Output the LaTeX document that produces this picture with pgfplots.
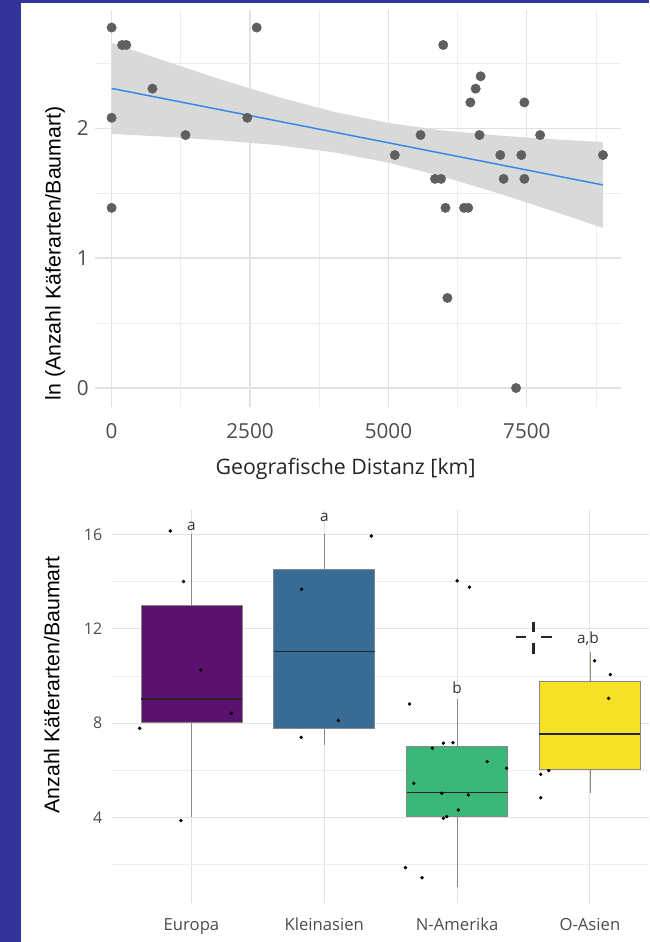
\documentclass[border=0pt]{standalone}
\usepackage{pgfplots}
\pgfplotsset{compat=1.18}
\usepgfplotslibrary{statistics}
\usepackage{pgfplotstable}
\usepackage{graphicx}
\usepackage{fontspec}
\setmainfont{Open Sans}
\newfontfamily\arialfont{Liberation Sans}
\definecolor{frameblue}{RGB}{51,51,153}
\definecolor{ptgray}{RGB}{95,95,95}
\definecolor{bandgray}{RGB}{217,217,217}
\definecolor{lineblue}{RGB}{51,136,230}
\definecolor{gridmaj}{RGB}{226,226,226}
\definecolor{gridmin}{RGB}{237,237,237}
\definecolor{ticktext}{RGB}{77,77,77}
\definecolor{boxedge}{RGB}{135,135,135}
\definecolor{europa}{RGB}{90,18,110}
\definecolor{kleinasien}{RGB}{57,108,148}
\definecolor{namerika}{RGB}{59,183,121}
\definecolor{oasien}{RGB}{247,225,38}

\pgfplotstableread{
x y
0 2.773
2620 2.773
190 2.639
265 2.639
5990 2.639
738 2.303
0 2.079
2450 2.079
1335 1.946
0 1.386
5580 1.946
5115 1.792
5840 1.609
5950 1.609
6030 1.386
6365 1.386
6440 1.386
6065 0.693
6480 2.197
6575 2.303
6665 2.398
6645 1.946
7020 1.792
7080 1.609
7400 1.792
7455 1.609
7455 2.197
7740 1.946
7305 0
8875 1.792
}\distpts

% confidence band: upper edge left to right, then lower edge right to left
\pgfplotstableread{
x y
0 2.655
1000 2.511
2000 2.370
3000 2.240
4000 2.126
5000 2.039
6000 1.980
7000 1.942
8000 1.913
8875 1.892
8875 1.232
8000 1.357
7000 1.496
6000 1.624
5000 1.734
4000 1.814
3000 1.868
2000 1.904
1000 1.932
0 1.955
}\band

\pgfplotstableread{
x y
0.84 16.14
0.94 14.0
0.61 7.78
1.07 10.25
1.30 8.42
0.92 3.87
1.829 13.67
2.354 15.93
2.106 8.11
1.826 7.40
3.0 14.03
3.093 13.76
2.642 8.81
2.813 6.94
2.897 7.15
2.969 7.17
3.227 6.37
3.373 6.09
2.674 5.45
2.885 5.03
3.084 4.96
3.009 4.32
2.897 3.97
2.922 4.04
2.611 1.88
2.736 1.45
4.036 10.64
4.154 10.06
4.141 9.05
3.63 5.83
3.69 5.99
3.63 4.84
}\jitter

\begin{document}
\begin{tikzpicture}
\fill[white] (0,0) rectangle (486.75pt,-706.5pt);
\fill[frameblue] (0,0) rectangle (16pt,-706.5pt);
\fill[frameblue] (0,0) rectangle (486.75pt,-2.6pt);

% ---------- top: scatter with regression ----------
\begin{axis}[
  at={(71.25pt,-305.25pt)}, anchor=south west,
  scale only axis, width=394.5pt, height=297.75pt,
  xmin=-300, xmax=9200, ymin=-0.146, ymax=2.908,
  axis line style={draw=none},
  major tick length=0pt, minor tick length=0pt,
  xtick={0,2500,5000,7500}, minor xtick={1250,3750,6250,8750},
  ytick={0,1,2}, minor ytick={0.5,1.5,2.5},
  grid=both,
  major grid style={draw=gridmaj, line width=0.8pt},
  minor grid style={draw=gridmin, line width=0.5pt},
  /pgf/number format/assume math mode=true,
  /pgf/number format/1000 sep={},
  tick label style={inner sep=0pt, text=ticktext, font=\fontsize{15.5}{16}\selectfont},
  xticklabel style={anchor=base, yshift=-23.25pt},
  yticklabel style={anchor=east, xshift=-4.5pt},
  xlabel={Geografische Distanz [km]},
  xlabel style={at={(axis description cs:0.4764,-0.1695)}, anchor=base, inner sep=0pt,
    font=\fontsize{16}{16}\selectfont, text=black!85},
  ylabel={ln (Anzahl Käferarten/Baumart)},
  ylabel style={at={(axis description cs:-0.076,0.387)}, anchor=center, inner sep=0pt,
    font=\arialfont\fontsize{16}{16}\selectfont},
]
\addplot[fill=bandgray, draw=none] table[x=x, y=y] {\band} -- cycle;
\addplot[only marks, mark=*, mark size=3.5pt, mark options={fill=ptgray, draw=ptgray}] table[x=x, y=y] {\distpts};
\addplot[lineblue, line width=1.1pt] coordinates {(0,2.305) (8875,1.562)};
\end{axis}

% ---------- bottom: boxplots ----------
\begin{axis}[
  at={(83.85pt,-677.25pt)}, anchor=south west,
  scale only axis, width=402.9pt, height=294.75pt,
  xmin=0.4, xmax=4.445, ymin=0.38, ymax=17.03,
  axis line style={draw=none},
  major tick length=0pt, minor tick length=0pt,
  xtick={1,2,3,4}, xticklabels={Europa,Kleinasien,N-Amerika,O-Asien},
  ytick={4,8,12,16}, minor ytick={2,6,10,14},
  xmajorgrids, ymajorgrids, yminorgrids,
  major grid style={draw=gridmaj, line width=0.8pt},
  minor grid style={draw=gridmin, line width=0.5pt},
  /pgf/number format/assume math mode=true,
  tick label style={inner sep=0pt, text=ticktext},
  xticklabel style={anchor=base, yshift=-20.25pt, font=\fontsize{12.5}{13}\selectfont},
  yticklabel style={anchor=east, xshift=-7pt, font=\fontsize{12}{13}\selectfont},
  ylabel={Anzahl Käferarten/Baumart},
  ylabel style={at={(axis description cs:-0.112,0.555)}, anchor=center, inner sep=0pt,
    font=\arialfont\fontsize{16}{16}\selectfont},
  boxplot/draw direction=y,
  boxplot/box extend=0.76,
  boxplot/whisker extend=0,
  boxplot/every median/.style={draw=black!85, line width=1.2pt},
]
\addplot[boxplot prepared={draw position=1, lower whisker=4.04, lower quartile=8.04,
  median=9.03, upper quartile=13.0, upper whisker=16.0},
  fill=europa, draw=boxedge, line width=0.6pt] coordinates {};
\addplot[boxplot prepared={draw position=2, lower whisker=7.08, lower quartile=7.78,
  median=11.03, upper quartile=14.52, upper whisker=16.0},
  fill=kleinasien, draw=boxedge, line width=0.6pt] coordinates {};
\addplot[boxplot prepared={draw position=3, lower whisker=1.07, lower quartile=4.04,
  median=5.06, upper quartile=7.03, upper whisker=9.01},
  fill=namerika, draw=boxedge, line width=0.6pt] coordinates {};
\addplot[boxplot prepared={draw position=4, lower whisker=5.06, lower quartile=6.05,
  median=7.53, upper quartile=9.76, upper whisker=11.03},
  fill=oasien, draw=boxedge, line width=0.6pt] coordinates {};
\addplot[only marks, mark=*, mark size=1.1pt, mark options={fill=black, draw=black}] table[x=x, y=y] {\jitter};
% cursor cross
\addplot[black!85, line width=1.6pt] coordinates {(3.440,11.64) (3.521,11.64)};
\addplot[black!85, line width=1.6pt] coordinates {(3.633,11.64) (3.716,11.64)};
\addplot[black!85, line width=1.6pt] coordinates {(3.575,12.30) (3.575,11.88)};
\addplot[black!85, line width=1.6pt] coordinates {(3.575,11.39) (3.575,10.93)};
\node[font=\fontsize{11.5}{12}\selectfont, text=black!80] at (axis cs:1,16.33) {a};
\node[font=\fontsize{11.5}{12}\selectfont, text=black!80] at (axis cs:2,16.72) {a};
\node[font=\fontsize{11.5}{12}\selectfont, text=black!80] at (axis cs:3,9.52) {b};
\node[font=\fontsize{11.5}{12}\selectfont, text=black!80] at (axis cs:3.985,11.6) {a,b};
\end{axis}
\end{tikzpicture}
\end{document}
